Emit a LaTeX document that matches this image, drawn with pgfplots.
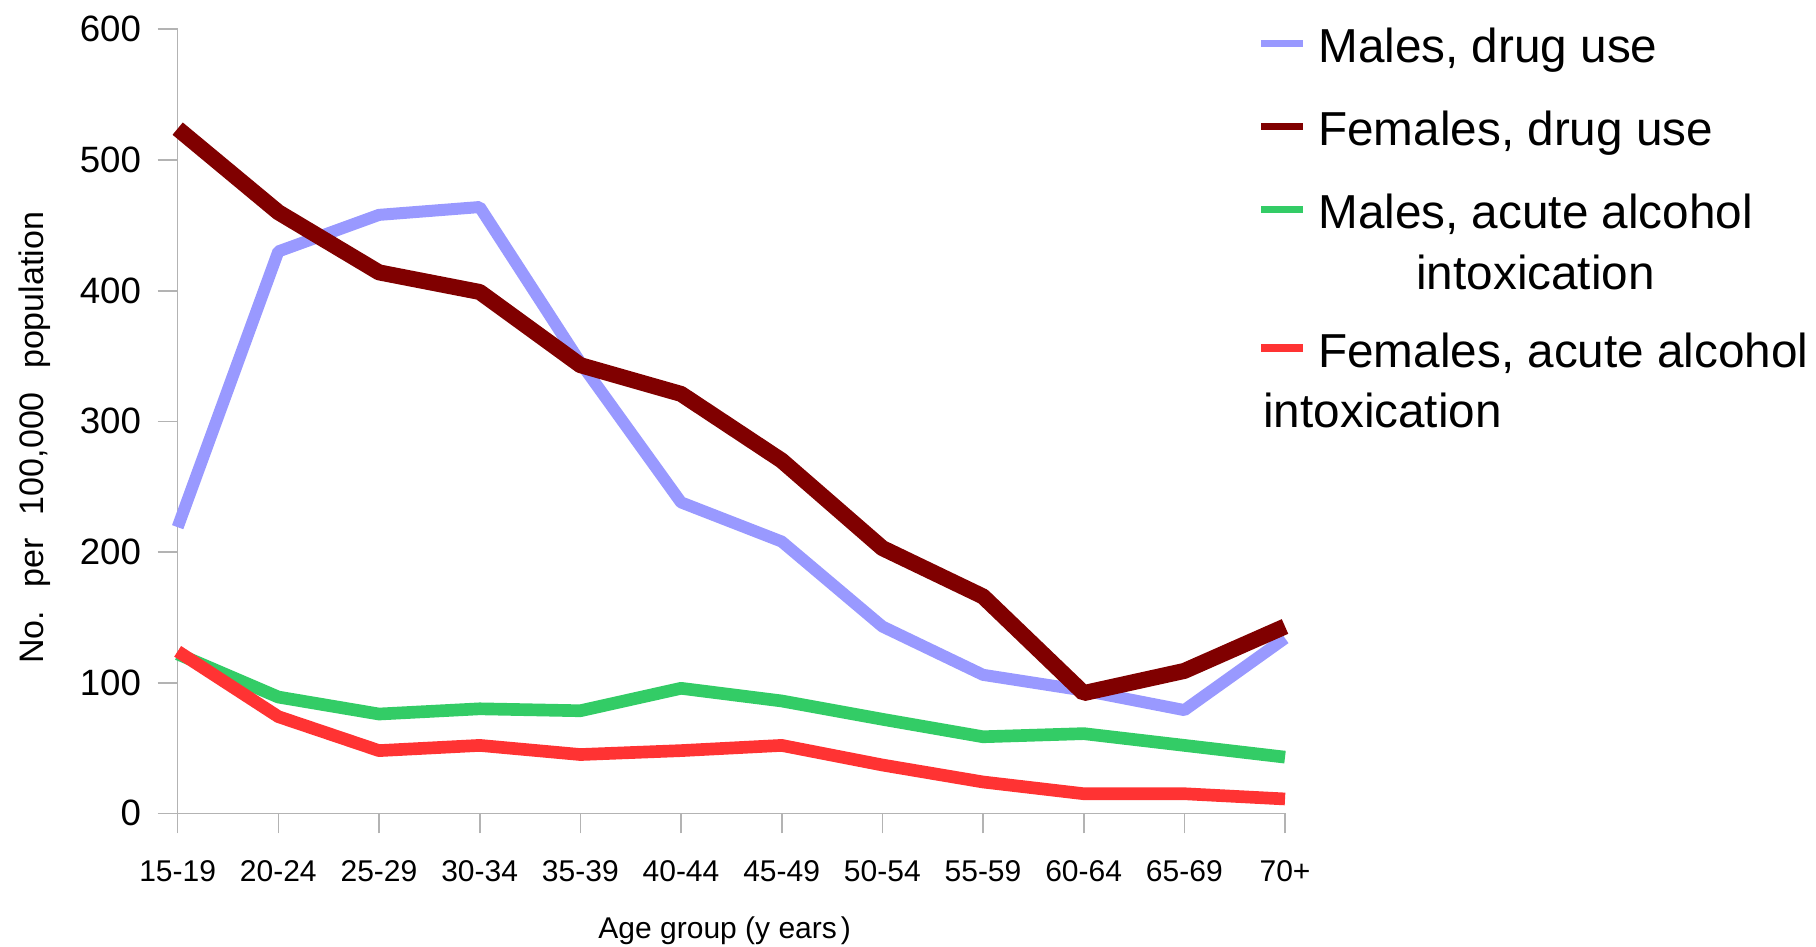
\documentclass[border=0pt]{standalone}
\usepackage{fontspec}
\setmainfont{Liberation Sans}
\usepackage{pgfplots}
\usepackage{pgfplotstable}
\pgfplotsset{compat=1.18}
\definecolor{cMdrug}{HTML}{9999FF}
\definecolor{cFdrug}{HTML}{800000}
\definecolor{cMalc}{HTML}{33CC66}
\definecolor{cFalc}{HTML}{FF3333}
\definecolor{axgray}{HTML}{B3B3B3}

\pgfplotstableread{
x md fd ma fa
0 219 524 122 124
1 430 460 89 74
2 458 414 76 48
3 464 399 80 52
4 345 343 78.5 45
5 238 321 95.7 48
6 208 270 86 52
7 143 203 72 37
8 106 166 58.6 24
9 94 92 61 15
10 79 109 52 15
11 134 143 43 11
}\data

\begin{document}
\begin{tikzpicture}
\begin{axis}[
  at={(0,0)}, anchor=south west,
  scale only axis, width=332.2pt, height=235.2pt,
  xmin=0, xmax=11, ymin=0, ymax=600,
  enlargelimits=false,
  clip=false,
  axis x line*=bottom, axis y line*=left,
  axis line style={axgray, line width=0.5pt},
  tick style={axgray, line width=0.5pt},
  tick align=outside, major tick length=6pt,
  xtick={0,...,11},
  xticklabels={15-19,20-24,25-29,30-34,35-39,40-44,45-49,50-54,55-59,60-64,65-69,70+},
  ytick={0,100,...,600},
  /pgf/number format/assume math mode=true,
  yticklabel style={font=\fontsize{11}{13}\selectfont, anchor=east, inner sep=0pt, xshift=-4.8pt},
  xticklabel style={font=\fontsize{9}{11}\selectfont, anchor=base, inner sep=0pt, yshift=-14.5pt},
  xlabel={Age group (y\hspace{2.5pt}ears\hspace{1.2pt})},
  xlabel style={font=\fontsize{9}{11}\selectfont, at={(axis description cs:0.494,0)}, anchor=base, yshift=-37.6pt, inner sep=0pt},
  ylabel={No.\hspace{7pt}per\hspace{7pt}100,000\hspace{7pt}population},
  ylabel style={font=\fontsize{10.2}{12}\selectfont, at={(axis description cs:-0.1216,0.479)}, anchor=base, inner sep=0pt},
  legend style={draw=none, fill=none, inner sep=0pt, outer sep=0pt,
    at={(axis description cs:0.9753,1.0113)}, anchor=north west,
    row sep=6.7pt, column sep=3.3pt,
    font=\fontsize{14.3}{18.2}\selectfont,
    cells={anchor=base west}, nodes={inner sep=0pt, text depth=}},
  legend image code/.code={\draw[#1, line width=2.3pt, line cap=butt] (0pt,5.8pt) -- (12.6pt,5.8pt);},
  every axis plot/.append style={line join=bevel, line cap=butt},
]
\addplot[cMdrug, line width=3.6pt] table[x=x, y=md] {\data};
\addlegendentry{\strut Males, drug use}
\addplot[cFdrug, line width=4.8pt] table[x=x, y=fd] {\data};
\addlegendentry{\strut Females, drug use}
\addplot[cMalc, line width=3.8pt] table[x=x, y=ma] {\data};
\addlegendentry{\raisebox{0pt}[\height][\dimexpr\depth-1.6pt\relax]{\begin{tabular}[t]{@{}c@{}}Males, acute alcohol\\intoxication\end{tabular}}}
\addplot[cFalc, line width=3.8pt] table[x=x, y=fa] {\data};
\addlegendentry{\begin{tabular}[t]{@{}l@{}}Females, acute alcohol\\\hspace*{-16.5pt}intoxication\end{tabular}}
\end{axis}
\pgfresetboundingbox
\useasboundingbox (-53.3pt,-39.8pt) rectangle (491.5pt,244pt);
\end{tikzpicture}
\end{document}
